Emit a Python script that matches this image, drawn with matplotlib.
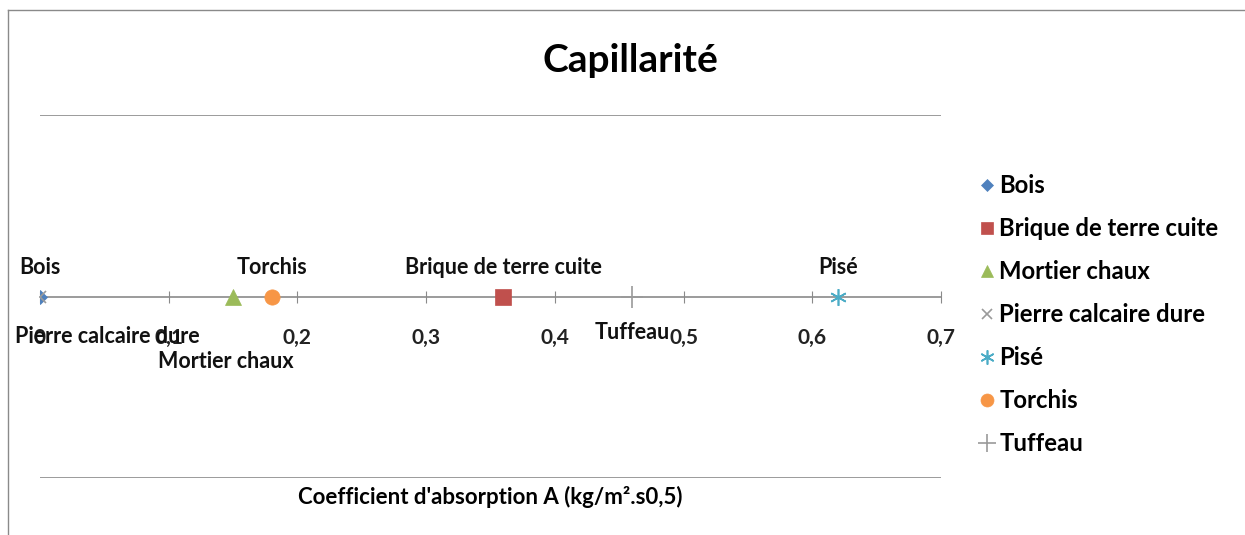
import matplotlib.pyplot as plt
from matplotlib.lines import Line2D

plt.rcParams['font.family'] = ['Lato', 'DejaVu Sans']

materials = ['Bois', 'Brique de terre cuite', 'Mortier chaux', 'Pierre calcaire dure',
             'Pisé', 'Torchis', 'Tuffeau']
coef = [0.0, 0.36, 0.15, 0.0, 0.62, 0.18, 0.46]
level = [0, 0, 0, 0, 0, 0, 0]
xticks = [0, 0.1, 0.2, 0.3, 0.4, 0.5, 0.6, 0.7]
xticklabels = ['0', '0,1', '0,2', '0,3', '0,4', '0,5', '0,6', '0,7']

markers = ['D', 's', '^', 'x', (6, 2, 0), 'o', '+']
colors = ['#4F81BD', '#C0504D', '#9BBB59', '#9A9A9A', '#4BACC6', '#F79646', '#9A9A9A']
sizes = [7, 11, 11, 9, 12, 11, 16]
# label offsets in points (dx, dy) and alignment
label_pos = {
    'Bois': ((0, 21), 'center'),
    'Brique de terre cuite': ((0, 21), 'center'),
    'Mortier chaux': ((-5, -47), 'center'),
    'Pierre calcaire dure': ((-18, -29), 'left'),
    'Pisé': ((0, 21), 'center'),
    'Torchis': ((0, 21), 'center'),
    'Tuffeau': ((0, -26), 'center'),
}

fig = plt.figure(figsize=(12.45, 5.35), dpi=100)
ax = fig.add_axes([40 / 1245, 57 / 535, 901 / 1245, 363 / 535])

for name, x, y, m, c, s in zip(materials, coef, level, markers, colors, sizes):
    ax.plot([x], [y], linestyle='none', marker=m, color=c, markersize=s,
            markeredgewidth=1.2 if m in ('x', '+') or isinstance(m, tuple) else 0.5,
            label=name, zorder=3)
for name, x, y in zip(materials, coef, level):
    (dx, dy), ha = label_pos[name]
    ax.annotate(name, (x, y), xytext=(dx, dy), textcoords='offset points',
                ha=ha, va='center', fontsize=15.5, fontweight='bold', color='#111111')

ax.set_xlim(0, 0.7)
ax.set_ylim(-1, 1)
ax.set_yticks([-1, 1])
ax.yaxis.grid(True, color='#8a8a8a', linewidth=1.2)
ax.tick_params(axis='y', left=False, labelleft=False)
for side in ['top', 'right', 'left']:
    ax.spines[side].set_visible(False)
ax.spines['bottom'].set_position(('data', 0))
ax.spines['bottom'].set_color('#8a8a8a')
ax.spines['bottom'].set_linewidth(1.2)
ax.set_xticks(xticks)
ax.set_xticklabels(xticklabels, fontsize=15, fontweight='bold', color='#222222')
ax.tick_params(axis='x', direction='inout', length=9, color='#8a8a8a', pad=18)

fig.text(630 / 1245, 1 - 60 / 535, 'Capillarité', ha='center', va='center',
         fontsize=28, fontweight='bold')
fig.text(490 / 1245, 1 - 497 / 535, "Coefficient d'absorption A (kg/m².s0,5)",
         ha='center', va='center', fontsize=16, fontweight='bold')

fig.legend(loc='upper left', bbox_to_anchor=(967 / 1245, 1 - 162 / 535), frameon=False,
           handlelength=0.7, handletextpad=0.15, labelspacing=0.84, borderpad=0,
           prop={'size': 17.2, 'weight': 'bold'}, markerscale=0.85)

fig.add_artist(Line2D([8 / 1245, 8 / 1245], [0, 1 - 10 / 535], transform=fig.transFigure,
                      color='#8a8a8a', linewidth=1))
fig.add_artist(Line2D([8 / 1245, 1], [1 - 10 / 535, 1 - 10 / 535], transform=fig.transFigure,
                      color='#8a8a8a', linewidth=1))

fig.savefig('out.png', dpi=100)
